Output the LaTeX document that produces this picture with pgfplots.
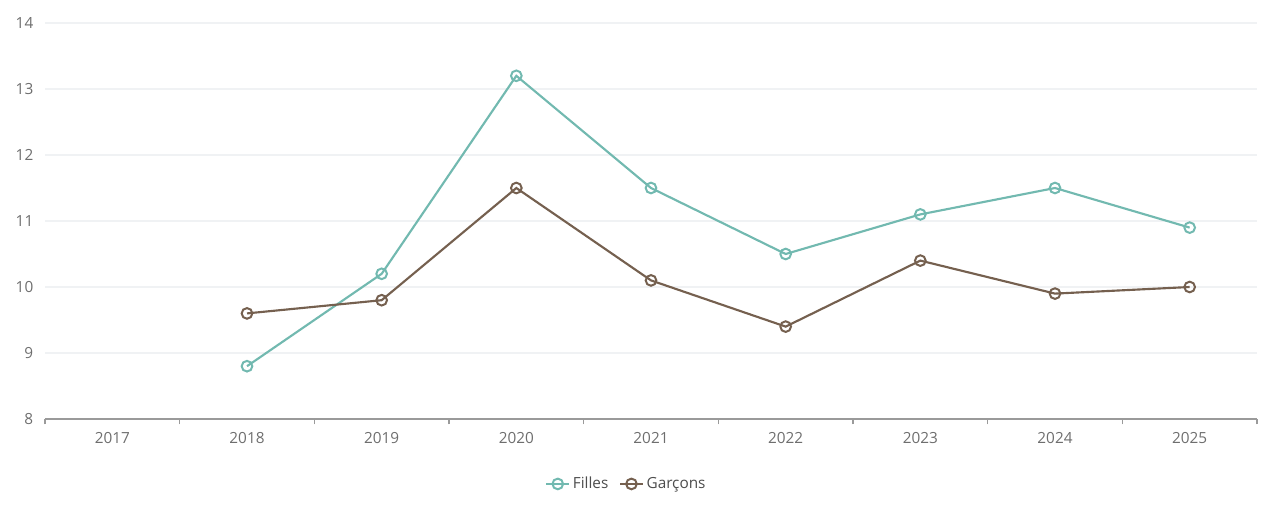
\documentclass[border=0pt]{standalone}
\usepackage{pgfplots}
\pgfplotsset{compat=1.18}
\usepackage{fontspec}
\setmainfont{Open Sans}
\definecolor{filles}{HTML}{72B9B0}
\definecolor{garcons}{HTML}{75604F}
\definecolor{gridc}{HTML}{F0F2F4}
\definecolor{axc}{HTML}{9A9A9A}
\definecolor{labc}{HTML}{6E6E6E}
\begin{document}
\begin{tikzpicture}
\path[use as bounding box] (0,0) rectangle (955.5pt,381pt);
\begin{axis}[
  at={(33.75pt,66.75pt)}, anchor=south west,
  scale only axis, width=909pt, height=297pt,
  xmin=-0.5, xmax=8.5, ymin=8, ymax=14,
  /pgf/number format/assume math mode=true,
  xtick={0,...,8},
  xticklabels={2017,2018,2019,2020,2021,2022,2023,2024,2025},
  minor xtick={-0.5,0.5,...,8.5},
  major x tick style={draw=none},
  minor x tick style={draw=axc, line width=0.8pt},
  tick align=outside,
  minor tick length=4pt,
  ytick={8,...,14},
  y tick style={draw=none},
  ymajorgrids, grid style={draw=gridc, line width=0.8pt},
  axis x line*=bottom, axis y line*=left,
  x axis line style={draw=axc, line width=0.8pt, -},
  y axis line style={draw=none},
  ticklabel style={font=\fontsize{11.5}{13}\selectfont, text=labc},
  yticklabel style={xshift=-1pt},
  xticklabel style={yshift=-2pt},
  legend columns=2,
  legend style={at={(0.48,-0.164)}, anchor=center, draw=none, fill=none,
    font=\fontsize{11.5}{13}\selectfont, text=labc!70!black,
    /tikz/every even column/.append style={column sep=6pt}},
  legend cell align=left,
]
\addplot[filles, line width=1.6pt, mark=o, mark size=4pt,
  mark options={fill=white, line width=1.5pt}]
  coordinates {(1,8.8) (2,10.2) (3,13.2) (4,11.5) (5,10.5) (6,11.1) (7,11.5) (8,10.9)};
\addlegendentry{Filles}
\addplot[garcons, line width=1.6pt, mark=o, mark size=4pt,
  mark options={fill=white, line width=1.5pt}]
  coordinates {(1,9.6) (2,9.8) (3,11.5) (4,10.1) (5,9.4) (6,10.4) (7,9.9) (8,10.0)};
\addlegendentry{Garçons}
\end{axis}
\end{tikzpicture}
\end{document}
